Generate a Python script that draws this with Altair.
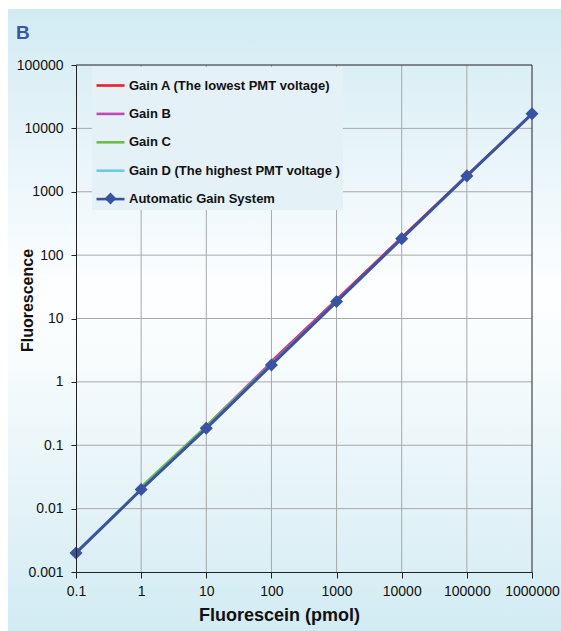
import altair as alt
import pandas as pd

# ---- data ----
series = ["Gain A (The lowest PMT voltage)", "Gain B", "Gain C",
          "Gain D (The highest PMT voltage )", "Automatic Gain System"]
colors = ["#ee1c25", "#c348b5", "#6cbd45", "#6acbe3", "#3953a4"]

auto_x = [0.1, 1, 10, 100, 1000, 10000, 100000, 1000000]
auto_y = [0.002, 0.02, 0.185, 1.85, 18.5, 182, 1780, 17000]
gainA_x = [100, 1000, 10000, 100000, 1000000]
gainA_y = [2.1, 19.8, 190, 1800, 16800]
gainB_x = [10, 100, 1000, 10000]
gainB_y = [0.2, 2.05, 19.2, 186]
gainC_x = [1, 10, 100, 1000]
gainC_y = [0.022, 0.2, 1.9, 18.5]
gainD_x = [0.1, 1, 10, 100]
gainD_y = [0.002, 0.02, 0.186, 1.86]

x_ticks = [0.1, 1, 10, 100, 1000, 10000, 100000, 1000000]
y_ticks = [0.001, 0.01, 0.1, 1, 10, 100, 1000, 10000, 100000]

rows = []
for name, xs_, ys_ in [(series[0], gainA_x, gainA_y), (series[1], gainB_x, gainB_y),
                       (series[2], gainC_x, gainC_y), (series[3], gainD_x, gainD_y)]:
    for a, b in zip(xs_, ys_):
        rows.append({"series": name, "x": a, "y": b})
gains = pd.DataFrame(rows)
auto = pd.DataFrame({"series": series[4], "auto": series[4], "x": auto_x, "y": auto_y})

FONT = "Liberation Sans"
W, H = 456, 507
LEG_FILL = "#e4f2f7"

xs = alt.Scale(type="log", domain=[x_ticks[0], x_ticks[-1]], nice=False)
ys = alt.Scale(type="log", domain=[y_ticks[0], y_ticks[-1]], nice=False)

xaxis = alt.Axis(values=x_ticks, format="~f", grid=False, title="Fluorescein (pmol)",
                 titleFontSize=18, titleFontWeight="bold", titleFont=FONT, titleColor="#111",
                 titleX=203, titleY=48, titleBaseline="alphabetic", titleAlign="center",
                 labelFont=FONT, labelFontSize=14, labelColor="#111", labelPadding=6,
                 tickSize=6, tickColor="#222", domainColor="#222", labelFlush=False,
                 labelOverlap=False, zindex=1)
yaxis = alt.Axis(values=y_ticks, format="~f", grid=False, title="Fluorescence",
                 titleFontSize=16, titleFontWeight="bold", titleFont=FONT, titleColor="#111",
                 titleX=-44, titleY=235, titleBaseline="alphabetic", titleAlign="center",
                 labelFont=FONT, labelFontSize=14, labelColor="#111", labelPadding=8,
                 tickSize=5, tickColor="#222", domainColor="#222", labelFlush=False,
                 labelOverlap=False, zindex=1)

X = alt.X("x:Q", scale=xs, axis=xaxis)
Y = alt.Y("y:Q", scale=ys, axis=yaxis)

grad = alt.LinearGradient(
    gradient="linear", x1=0, x2=0, y1=0, y2=1,
    stops=[alt.GradientStop(color="#d2ebf3", offset=0),
           alt.GradientStop(color="#fdfeff", offset=0.45),
           alt.GradientStop(color="#f8fcfd", offset=0.56),
           alt.GradientStop(color="#d2ebf3", offset=1)])

bg = alt.Chart(pd.DataFrame({"k": [0]})).mark_rect(fill=grad, strokeWidth=0).encode(
    x=alt.value(-68), x2=alt.value(485), y=alt.value(-56), y2=alt.value(566))

gx = alt.Chart(pd.DataFrame({"x": x_ticks[1:-1]})).mark_rule(color="#a8a8a8", strokeWidth=1).encode(x=X)
gy = alt.Chart(pd.DataFrame({"y": y_ticks[1:-1]})).mark_rule(color="#a8a8a8", strokeWidth=1).encode(y=Y)
fx = alt.Chart(pd.DataFrame({"x": [x_ticks[-1]]})).mark_rule(color="#222", strokeWidth=1).encode(x=X)
fy = alt.Chart(pd.DataFrame({"y": [y_ticks[-1]]})).mark_rule(color="#222", strokeWidth=1).encode(y=Y)

leg_common = dict(title=None, orient="none", legendX=16, padding=3,
                  labelFont=FONT, labelFontSize=13, labelFontWeight="bold",
                  labelColor="#111", labelOffset=3, labelLimit=400, symbolSize=784,
                  symbolStrokeWidth=2.6)

color = alt.Color("series:N", scale=alt.Scale(domain=series, range=colors),
                  legend=alt.Legend(legendY=2, symbolType="stroke", rowPadding=5.4,
                                    fillColor=LEG_FILL, zindex=0, **leg_common))

diamond_path = "M0,-0.42L0.42,0L0,0.42L-0.42,0Z"
shape = alt.Shape("auto:N", scale=alt.Scale(domain=[series[4]], range=[diamond_path]),
                  legend=alt.Legend(legendY=115, symbolFillColor=colors[4],
                                    symbolStrokeColor=colors[4], symbolOpacity=1,
                                    labelExpr="''", zindex=1, **leg_common))

lines = alt.Chart(gains).mark_line(strokeWidth=2.6).encode(x=X, y=Y, color=color)
auto_line = alt.Chart(auto).mark_line(strokeWidth=3).encode(x=X, y=Y, color=color)
auto_pts = alt.Chart(auto).mark_point(shape="diamond", filled=True, size=170, opacity=1,
                                      color=colors[4]).encode(x=X, y=Y)
auto_leg = alt.Chart(auto).mark_point(opacity=0, filled=True, color=colors[4]).encode(
    x=X, y=Y, shape=shape)

btxt = alt.Chart(pd.DataFrame({"k": [0]})).mark_text(
    text="B", font=FONT, fontSize=19, fontWeight="bold", color="#3b55a8",
    align="left", baseline="alphabetic").encode(x=alt.value(-60), y=alt.value(-26))

chart = alt.layer(bg, gx, gy, fx, fy, lines, auto_line, auto_pts, auto_leg, btxt).properties(
    width=W, height=H, autosize="none",
    padding={"left": 76, "top": 65, "right": 29, "bottom": 59},
    background="white",
).configure_view(stroke=None)

chart.save("out.html", embed_options={"renderer": "svg", "actions": False})
